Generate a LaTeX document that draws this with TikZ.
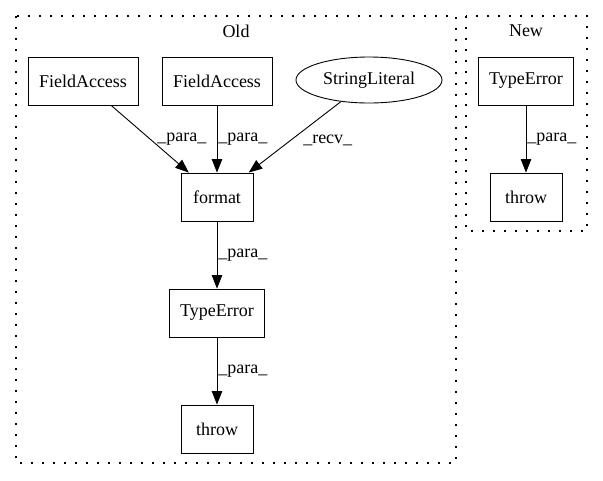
\documentclass[tikz,border=0pt]{standalone}
\usepackage{fontspec}
\setmainfont{Liberation Serif}
\usetikzlibrary{arrows.meta,shapes.geometric}
\tikzset{
  box/.style={draw, line width=0.9pt, minimum width=72pt, minimum height=48pt, inner xsep=11pt},
  oval/.style={draw, ellipse, line width=0.9pt, minimum width=146pt, minimum height=46pt, inner sep=0pt},
  cluster/.style={draw, line width=1.2pt, dash pattern=on 1.6pt off 9.4pt},
  flow/.style={line width=0.9pt, -{Triangle[length=13.5pt,width=10.5pt]}},
  lbl/.style={inner sep=0pt, anchor=west}
}

\begin{document}
\begin{tikzpicture}[x=1pt,y=-1pt,font=\fontsize{18}{21}\selectfont]
		%%%%% START %%%%%
		\useasboundingbox (0,0) rectangle (603,480);

		\draw[cluster] (16,16) rectangle (456,463);
		\draw[cluster] (466,16) rectangle (587,231);
		\node (oldtitle) at (236,31) {Old};
		\node (newtitle) at (526,31) {New};

		\node[box] (fieldA) at (83,81) {FieldAccess};
		\node[box] (fieldB) at (217,81) {FieldAccess};
		\node[oval] (strlit) at (369,80) {StringLiteral};
		\node[box] (format) at (217,197) {format};
		\node[box] (typeerr) at (217,313) {TypeError};
		\node[box] (throwold) at (217,429) {throw};

		\node[box] (typeerrnew) at (526,81) {TypeError};
		\node[box] (thrownew) at (526,197) {throw};

		\draw[flow] (fieldA) -- (format) node[lbl, pos=0.5, xshift=7pt] {\_para\_};
		\draw[flow] (fieldB) -- (format) node[lbl, pos=0.5, xshift=1pt] {\_para\_};
		\draw[flow] (strlit) -- (format) node[lbl, pos=0.5, xshift=8pt, yshift=-3pt] {\_recv\_};
		\draw[flow] (format) -- (typeerr) node[lbl, pos=0.5, xshift=1pt] {\_para\_};
		\draw[flow] (typeerr) -- (throwold) node[lbl, pos=0.5, xshift=1pt] {\_para\_};
		\draw[flow] (typeerrnew) -- (thrownew) node[lbl, pos=0.5, xshift=1pt] {\_para\_};
		%%%%% END %%%%%
\end{tikzpicture}
\end{document}
